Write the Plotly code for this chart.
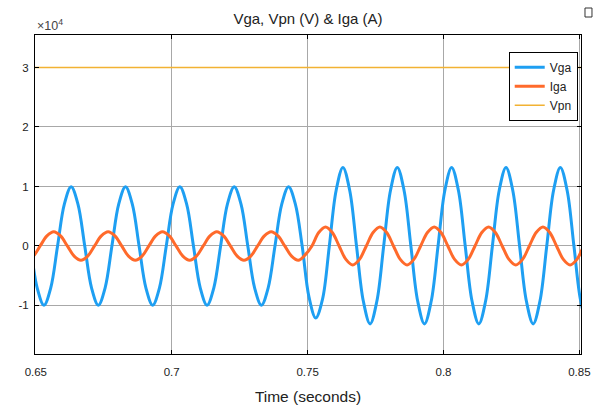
import plotly.graph_objects as go

# ---- data ----
# Vga samples (V)
vga_t = [0.6455, 0.6480, 0.6505, 0.6530, 0.6555, 0.6580, 0.6605, 0.6630, 0.6655, 0.6680,
         0.6705, 0.6730, 0.6755, 0.6780, 0.6805, 0.6830, 0.6855, 0.6880, 0.6905, 0.6930,
         0.6955, 0.6980, 0.7005, 0.7030, 0.7055, 0.7080, 0.7105, 0.7130, 0.7155, 0.7180,
         0.7205, 0.7230, 0.7255, 0.7280, 0.7305, 0.7330, 0.7355, 0.7380, 0.7405, 0.7430,
         0.7455, 0.7480, 0.7505, 0.7530, 0.7555, 0.7580, 0.7605, 0.7630, 0.7655, 0.7680,
         0.7705, 0.7730, 0.7755, 0.7780, 0.7805, 0.7830, 0.7855, 0.7880, 0.7905, 0.7930,
         0.7955, 0.7980, 0.8005, 0.8030, 0.8055, 0.8080, 0.8105, 0.8130, 0.8155, 0.8180,
         0.8205, 0.8230, 0.8255, 0.8280, 0.8305, 0.8330, 0.8355, 0.8380, 0.8405, 0.8430,
         0.8455, 0.8480, 0.8505, 0.8530, 0.8555]
vga_v = [7030, 0, -7030, -9950, -7030, 0, 7030, 9950, 7030, 0,
         -7030, -9950, -7030, 0, 7030, 9950, 7030, 0, -7030, -9950,
         -7030, 0, 7030, 9950, 7030, 0, -7030, -9950, -7030, 0,
         7030, 9950, 7030, 0, -7030, -9950, -7030, 0, 7030, 9950,
         7030, 0, -8550, -12100, -8950, 0, 9330, 13200, 9330, 0,
         -9260, -13100, -9260, 0, 9330, 13200, 9330, 0, -9260, -13100,
         -9260, 0, 9330, 13200, 9330, 0, -9260, -13100, -9260, 0,
         9330, 13200, 9330, 0, -9260, -13100, -9260, 0, 9330, 13200,
         9330, 0, -9260, -13100, -9260]

# Iga samples (A)
iga_t = [0.6466, 0.6491, 0.6516, 0.6541, 0.6566, 0.6591, 0.6616, 0.6641, 0.6666, 0.6691,
         0.6716, 0.6741, 0.6766, 0.6791, 0.6816, 0.6841, 0.6866, 0.6891, 0.6916, 0.6941,
         0.6966, 0.6991, 0.7016, 0.7041, 0.7066, 0.7091, 0.7116, 0.7141, 0.7166, 0.7191,
         0.7216, 0.7241, 0.7266, 0.7291, 0.7316, 0.7341, 0.7366, 0.7391, 0.7416, 0.7441,
         0.7466, 0.7491, 0.7516, 0.7541, 0.7566, 0.7591, 0.7616, 0.7641, 0.7666, 0.7691,
         0.7716, 0.7741, 0.7766, 0.7791, 0.7816, 0.7841, 0.7866, 0.7891, 0.7916, 0.7941,
         0.7966, 0.7991, 0.8016, 0.8041, 0.8066, 0.8091, 0.8116, 0.8141, 0.8166, 0.8191,
         0.8216, 0.8241, 0.8266, 0.8291, 0.8316, 0.8341, 0.8366, 0.8391, 0.8416, 0.8441,
         0.8466, 0.8491, 0.8516, 0.8541, 0.8566]
iga_v = [-2400, -1700, 0, 1700, 2400, 1700, 0, -1700, -2400, -1700,
         0, 1700, 2400, 1700, 0, -1700, -2400, -1700, 0, 1700,
         2400, 1700, 0, -1700, -2400, -1700, 0, 1700, 2400, 1700,
         0, -1700, -2400, -1700, 0, 1700, 2400, 1700, 0, -1700,
         -2400, -1500, 0, 2260, 3200, 2260, 0, -2260, -3200, -2260,
         0, 2260, 3200, 2260, 0, -2260, -3200, -2260, 0, 2260,
         3200, 2260, 0, -2260, -3200, -2260, 0, 2260, 3200, 2260,
         0, -2260, -3200, -2260, 0, 2260, 3200, 2260, 0, -2260,
         -3200, -2260, 0, 2260, 3200]

# Vpn: constant DC voltage (V)
vpn_t = [0.6497, 0.8506]
vpn_v = [30000, 30000]

x_ticks = [0.65, 0.7, 0.75, 0.8, 0.85]
x_ticklabels = ["0.65", "0.7", "0.75", "0.8", "0.85"]
y_ticks = [-10000, 0, 10000, 20000, 30000]
y_ticklabels = ["-1", "0", "1", "2", "3"]

FONT = "Liberation Sans Narrow, Arial Narrow, Liberation Sans, Arial, sans-serif"

fig = go.Figure()
fig.add_trace(go.Scatter(x=vga_t, y=vga_v, name="Vga", mode="lines",
                         line=dict(color="#1E9FF2", width=3, shape="spline", smoothing=1.0)))
fig.add_trace(go.Scatter(x=iga_t, y=iga_v, name="Iga", mode="lines",
                         line=dict(color="#FF6A2B", width=3, shape="spline", smoothing=1.0)))
fig.add_trace(go.Scatter(x=vpn_t, y=vpn_v, name="Vpn", mode="lines",
                         line=dict(color="#F2B233", width=1.5)))

axis_common = dict(showline=True, linecolor="#000000", linewidth=1, mirror="ticks",
                   ticks="inside", ticklen=4, tickcolor="#000000",
                   showgrid=True, gridcolor="#A8A8A8", gridwidth=1, zeroline=False,
                   automargin=False,
                   tickfont=dict(family=FONT, size=11.5, color="#222222"))

fig.update_layout(
    width=593, height=409,
    margin=dict(l=35, r=12, t=35, b=55),
    paper_bgcolor="white", plot_bgcolor="white",
    title=dict(text="Vga, Vpn (V) & Iga (A)", x=(308 / 593), xanchor="center",
               y=1 - 19 / 409, yanchor="middle",
               font=dict(family=FONT, size=15, color="#222222")),
    xaxis=dict(range=[0.6497, 0.8506], tickvals=x_ticks, ticktext=x_ticklabels,
               ticklabelstandoff=7,
               title=dict(text="Time (seconds)", standoff=14,
                          font=dict(family=FONT, size=15.5, color="#222222")),
               **axis_common),
    yaxis=dict(range=[-18160, 35460], tickvals=y_ticks, ticktext=y_ticklabels,
               ticklabelstandoff=3,
               **axis_common),
    legend=dict(x=0.994, xanchor="right", y=0.9477, yanchor="top",
                bgcolor="white", bordercolor="#000000", borderwidth=1,
                font=dict(family=FONT, size=12, color="#222222"),
                itemwidth=30, tracegroupgap=0),
    showlegend=True,
)

fig.add_annotation(text="×10<sup>4</sup>", xref="paper", yref="paper",
                   x=0, y=1, xanchor="left", yanchor="bottom", showarrow=False,
                   font=dict(family=FONT, size=12.5, color="#444444"), yshift=0)

# small window icon at the top-right corner
fig.add_shape(type="rect", xref="paper", yref="paper",
              x0=1.0073, x1=1.0201, y0=1.0564, y1=1.0846,
              line=dict(color="#333333", width=1), fillcolor="white")

fig.write_html("out.html")
